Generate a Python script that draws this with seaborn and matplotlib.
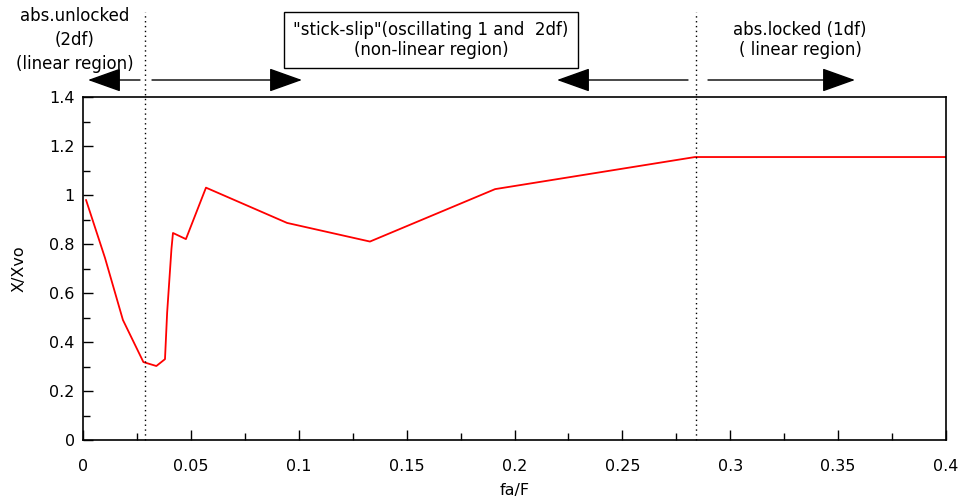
import numpy as np
import pandas as pd
import matplotlib
matplotlib.use("Agg")
import matplotlib.pyplot as plt
import seaborn as sns
from matplotlib.ticker import MultipleLocator

# data
fa_F = [0.0014, 0.0102, 0.0185, 0.028, 0.034, 0.038, 0.039, 0.040, 0.041,
        0.0417, 0.0477, 0.057, 0.0946, 0.133, 0.191, 0.2837, 0.4]
X_Xvo = [0.98, 0.743, 0.49, 0.318, 0.302, 0.33, 0.52, 0.65, 0.78,
         0.845, 0.82, 1.03, 0.886, 0.81, 1.024, 1.155, 1.155]
boundaries = [0.0287, 0.284]
x_ticks = [0, 0.05, 0.1, 0.15, 0.2, 0.25, 0.3, 0.35, 0.4]
x_tick_labels = ["0", "0.05", "0.1", "0.15", "0.2", "0.25", "0.3", "0.35", "0.4"]
y_ticks = [0, 0.2, 0.4, 0.6, 0.8, 1.0, 1.2, 1.4]
y_tick_labels = ["0", "0.2", "0.4", "0.6", "0.8", "1", "1.2", "1.4"]
region_texts = ["abs.unlocked\n(2df)\n(linear region)",
                "\"stick-slip\"(oscillating 1 and  2df)\n(non-linear region)",
                "abs.locked (1df)\n( linear region)"]

sns.set_style("white")
plt.rcParams['font.family'] = ['DejaVu Sans']
plt.rcParams['text.color'] = 'black'
plt.rcParams['axes.labelcolor'] = 'black'

W, H = 964, 501
fig = plt.figure(figsize=(W / 100, H / 100), dpi=100)
ax = fig.add_axes([83 / W, 1 - 440 / H, (946 - 83) / W, (440 - 97) / H])

df = pd.DataFrame({"fa/F": fa_F, "X/Xvo": X_Xvo})
sns.lineplot(data=df, x="fa/F", y="X/Xvo", ax=ax, color="#ff0000", lw=1.3,
             estimator=None, sort=False)

ax.set_xlim(0, 0.4)
ax.set_ylim(0, 1.4)
ax.set_xticks(x_ticks)
ax.set_xticklabels(x_tick_labels)
ax.set_yticks(y_ticks)
ax.set_yticklabels(y_tick_labels)
ax.xaxis.set_minor_locator(MultipleLocator(0.025))
ax.yaxis.set_minor_locator(MultipleLocator(0.1))
ax.tick_params(axis="both", which="both", bottom=True, left=True,
               top=False, right=False)
ax.tick_params(axis="both", which="major", direction="in", length=7, width=1,
               labelsize=11.5, colors="black")
ax.tick_params(axis="both", which="minor", direction="in", length=5, width=1,
               colors="black")
ax.tick_params(axis="x", which="major", pad=14)
ax.tick_params(axis="y", which="major", pad=6)
for s in ax.spines.values():
    s.set_color("black")
    s.set_linewidth(1.2)

ax.set_xlabel("fa/F", fontsize=11.5, labelpad=6, color="black")
ax.set_ylabel("X/Xvo", fontsize=11.5, labelpad=16, color="black")

# dotted boundary lines extending above the axes
top_y = 1.4 + (97 - 12) / 245
for b in boundaries:
    ax.plot([b, b], [0, top_y], ls=(0, (1, 2.5)), color="black", lw=1,
            clip_on=False)

def fp(px, py):
    return (px / W, 1 - py / H)

# region texts
fig.text(*fp(75, 40), region_texts[0], ha="center", va="center", fontsize=12,
         linespacing=1.45, color="black")
fig.text(*fp(431, 40), region_texts[1], ha="center", va="center", fontsize=12,
         linespacing=1.15, color="black",
         bbox=dict(boxstyle="square,pad=0.55", fc="white", ec="black", lw=1))
fig.text(*fp(800, 40), region_texts[2], ha="center", va="center", fontsize=12,
         linespacing=1.2, color="black")

# arrows
arrow_kw = dict(arrowstyle="-|>,head_length=1.4,head_width=0.5",
                mutation_scale=15, lw=1, color="black", shrinkA=0, shrinkB=0)
for (x0, x1) in [(140, 88), (152, 302), (688, 557), (708, 855)]:
    ax.annotate("", xy=fp(x1, 80), xytext=fp(x0, 80),
                xycoords="figure fraction", textcoords="figure fraction",
                arrowprops=arrow_kw, annotation_clip=False)

fig.savefig("out.png", dpi=100)
